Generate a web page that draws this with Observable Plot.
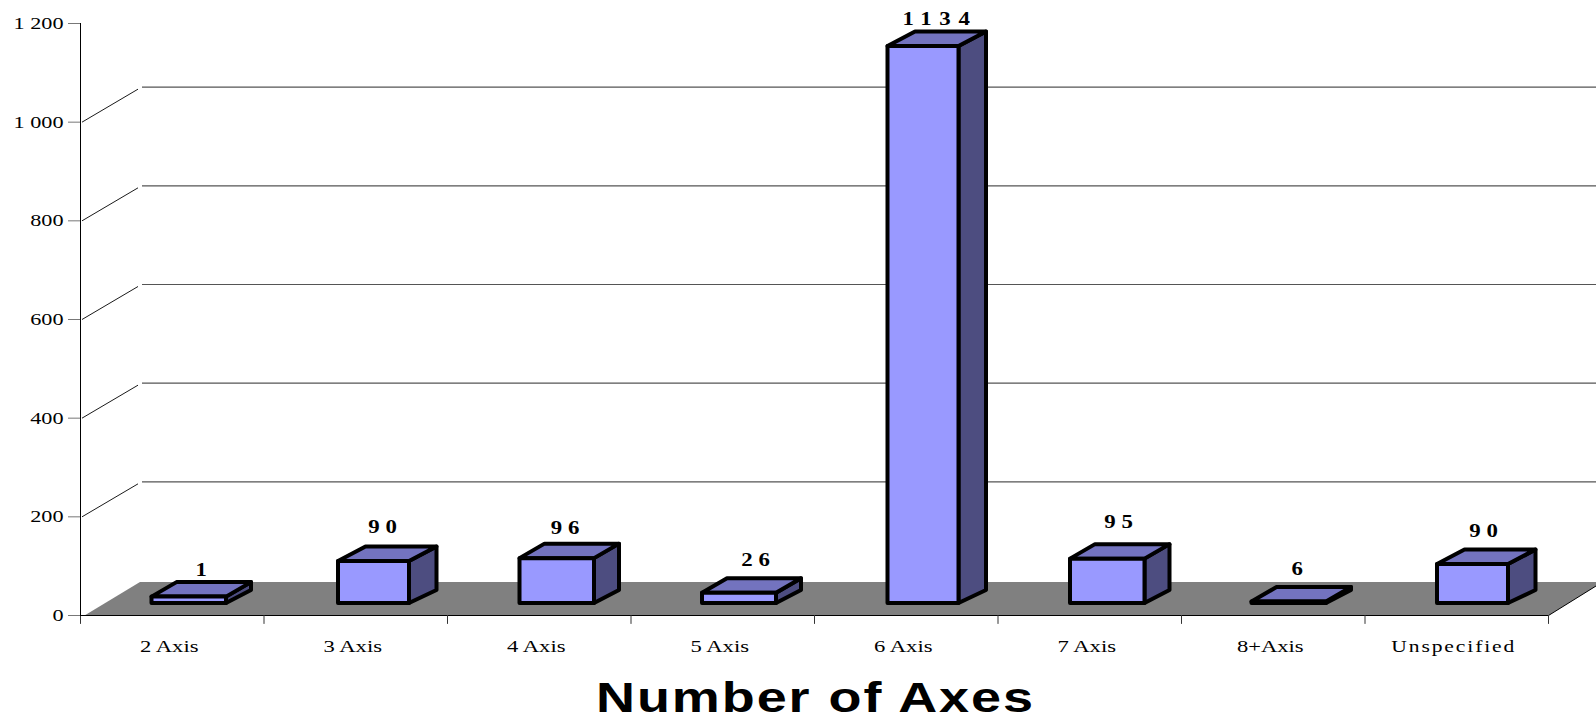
<!DOCTYPE html>
<html>
<head>
<meta charset="utf-8">
<script src="https://cdn.jsdelivr.net/npm/d3@7"></script>
<script src="https://cdn.jsdelivr.net/npm/@observablehq/plot@0.6"></script>
<style>
html,body{margin:0;padding:0;background:#fff;overflow:hidden}
svg{display:block}
</style>
</head>
<body>
<div id="chart"></div>
<script>
const categories = ["2 Axis","3 Axis","4 Axis","5 Axis","6 Axis","7 Axis","8+Axis","Unspecified"];
const valueLabels = [1,90,96,26,1134,95,6,90];
const barValues = [18,90,96,26,1134,95,8,84];
const yTicks = [0,200,400,600,800,1000,1200];
const gridValues = [200,400,600,800,1000];
const xTitle = ["Number of Axes"];

const rows = categories.map((c,i)=>({c, v:barValues[i], label:valueLabels[i]}));

const W=1596, H=718, ML=80, MR=48, MT=23, MB=103;
const band=(W-ML-MR)/categories.length;
const INL=72.5, LIFT=12, DY=14.5, TOPINSET=2.5;
const WALLX=58, WALLY=34;
const FRONT="#9999ff", TOP="#7373bf", SIDE="#4d4d80", FLOOR="#808080";
// small per-category layout adjustments (pixels), kept apart from the data
const layout = {
  "2 Axis":{shift:-1,w:74.5,depth:25,lx:2,ly:9},
  "3 Axis":{shift:2,w:71,depth:27.5,lx:0,ly:1.5},
  "4 Axis":{shift:0,w:74.5,depth:25,lx:-1,ly:5.5},
  "5 Axis":{shift:-1,w:74,depth:25,lx:6,ly:2.5},
  "6 Axis":{shift:1,w:71,depth:27.5,lx:4,ly:8.5},
  "7 Axis":{shift:0,w:74.5,depth:25,lx:2,ly:-1.5},
  "8+Axis":{shift:-2,w:74.5,depth:25,lx:-3,ly:2.5},
  "Unspecified":{shift:0,w:71,depth:27.5,lx:0,ly:2.5}
};

const poly=pts=>"M"+pts.map(p=>p.join(",")).join("L")+"Z";

function floorMark(index,{x,y}){
  const g=d3.create("svg:g");
  const y0=y(0)+0.5, left=ML+0.5, right=W-MR+0.5;
  g.append("path").attr("d",poly([[left+4,y0],[left+59.5,y0-33.5],[W,y0-33.5],[W,y0-29.5],[right,y0]])).attr("fill",FLOOR);
  g.append("path").attr("d",`M${right},${y0}L${W},${y0-29.5}`).attr("stroke","#000").attr("fill","none");
  for(const v of gridValues){
    g.append("path").attr("d",`M${left+1.5},${y(v)+0.5}L${left+WALLX-0.5},${y(v)+0.5-WALLY+1}`).attr("stroke","#000").attr("fill","none").attr("stroke-width",0.9);
  }
  return g.node();
}
function depthFaces(index,{x,y}){
  const g=d3.create("svg:g").attr("stroke","#000").attr("stroke-width",4).attr("stroke-linejoin","round");
  for(const r of rows){
    const L=layout[r.c];
    const xl=x(r.c)+INL+L.shift, xr=xl+L.w, yb=y(0)-LIFT, yt=y(r.v)-LIFT+TOPINSET, d=L.depth;
    g.append("path").attr("d",poly([[xr,yb],[xr+d,yb-DY+1.5],[xr+d,yt-DY],[xr,yt]])).attr("fill",SIDE);
    g.append("path").attr("d",poly([[xl,yt],[xl+d,yt-DY],[xr+d,yt-DY],[xr,yt]])).attr("fill",TOP);
  }
  return g.node();
}

const plot=Plot.plot({
  width:W,height:H,marginLeft:ML,marginRight:MR,marginTop:MT,marginBottom:MB,
  style:{fontFamily:"'Liberation Serif',serif",background:"#fff",color:"#000",overflow:"visible"},
  x:{type:"band",domain:categories,padding:0,round:false},
  y:{domain:[0,1200],range:[H-MB,MT]},
  marks:[
    floorMark,
    Plot.ruleY(gridValues,{y:d=>d,dy:-WALLY-1,insetLeft:WALLX+4,insetRight:-MR,stroke:"#555",strokeWidth:1.2}),
    Plot.ruleY([0],{stroke:"#000",strokeWidth:1}),
    Plot.ruleX(categories,{x:d=>d,dx:-band/2,y1:0,y2:-18,stroke:"#333",strokeWidth:1}),
    Plot.ruleX(categories.slice(-1),{x:d=>d,dx:band/2,y1:0,y2:-18,stroke:"#333",strokeWidth:1}),
    Plot.frame({anchor:"left",stroke:"#000",strokeWidth:1}),
    Plot.axisX({tickSize:0,tickPadding:24,fontSize:17,label:null,dx:-3,className:"xlab"}),
    Plot.axisY({ticks:yTicks,tickFormat:d=>d3.format(",")(d).replace(","," "),tickSize:12,tickPadding:5,fontSize:17.5,label:null,stroke:"#777",className:"ylab"}),
    depthFaces,
    ...rows.map(r=>{
      const L=layout[r.c];
      return Plot.barY([r],{x:"c",y:"v",dy:-LIFT,insetTop:TOPINSET,insetLeft:INL+L.shift,insetRight:band-INL-L.shift-L.w,fill:FRONT,stroke:"#000",strokeWidth:4,strokeLinejoin:"round"});
    }),
    ...rows.map(r=>{
      const L=layout[r.c];
      return Plot.text([r],{x:"c",y:"v",text:d=>String(d.label),dx:INL+37+12-band/2+L.lx,dy:-LIFT-13.5-14+L.ly,fontSize:18,fontWeight:"bold",textAnchor:"middle",lineAnchor:"bottom",className:"value"});
    }),
    Plot.text(xTitle,{frameAnchor:"bottom",dy:96,dx:1,fontSize:42,fontWeight:"bold",fontFamily:"'Liberation Sans',sans-serif",lineAnchor:"bottom",className:"title"})
  ]
});
document.getElementById("chart").appendChild(plot);

function stretch(t,target){
  t.setAttribute("textLength",target);
  t.setAttribute("lengthAdjust","spacingAndGlyphs");
}
plot.querySelectorAll(".ylab text").forEach(t=>stretch(t,t.getComputedTextLength()*1.27));
plot.querySelectorAll(".xlab text").forEach(t=>{
  if(t.textContent==="Unspecified"){t.style.letterSpacing="1.5px";stretch(t,125);}
  else stretch(t,t.getComputedTextLength()*1.33);
});
plot.querySelectorAll(".value text").forEach(t=>{
  t.style.letterSpacing=t.textContent.length>3?"6px":"4.5px";
  stretch(t,t.getComputedTextLength()*1.27);
});
plot.querySelectorAll(".title text").forEach(t=>{t.style.letterSpacing="1.5px";stretch(t,439);});
</script>
</body>
</html>
